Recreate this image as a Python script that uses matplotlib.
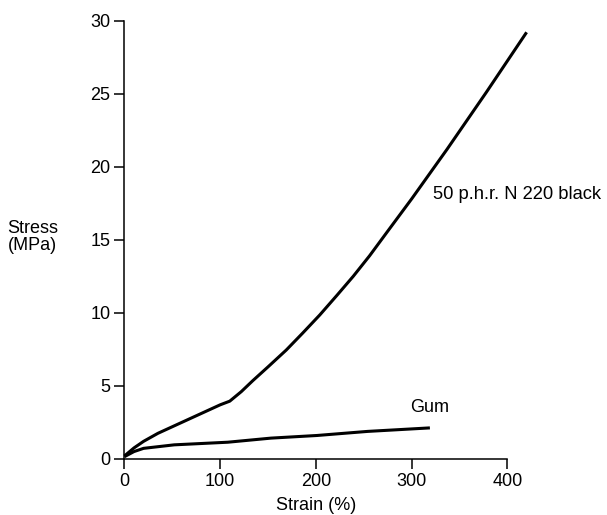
import matplotlib
matplotlib.use("Agg")
import matplotlib.pyplot as plt

plt.rcParams['font.family'] = ['Liberation Sans', 'DejaVu Sans']

# 50 p.h.r. N 220 black filled compound
black_strain = [0, 10, 20, 35, 50, 80, 100, 110, 122, 134, 150, 169, 186, 204, 222, 239, 256, 274, 300, 337, 378, 420]
black_stress = [0.2, 0.75, 1.2, 1.75, 2.2, 3.1, 3.7, 3.95, 4.6, 5.35, 6.3, 7.45, 8.6, 9.85, 11.2, 12.5, 13.9, 15.5, 17.8, 21.2, 25.1, 29.2]

# unfilled gum
gum_strain = [0, 10, 20, 52, 108, 153, 201, 254, 319]
gum_stress = [0.15, 0.5, 0.72, 0.96, 1.14, 1.42, 1.6, 1.88, 2.12]

fig = plt.figure(figsize=(6.07, 5.15), dpi=100)
ax = fig.add_axes([0.205, 0.109, 0.631, 0.851])

ax.plot(black_strain, black_stress, color='black', lw=2.2, clip_on=False,
        solid_capstyle='butt', solid_joinstyle='round')
ax.plot(gum_strain, gum_stress, color='black', lw=2.2, clip_on=False,
        solid_capstyle='butt', solid_joinstyle='round')

ax.set_xlim(0, 400)
ax.set_ylim(0, 30)
ax.set_xticks([0, 100, 200, 300, 400])
ax.set_yticks([0, 5, 10, 15, 20, 25, 30])

for s in ['top', 'right']:
    ax.spines[s].set_visible(False)
for s in ['left', 'bottom']:
    ax.spines[s].set_linewidth(1.1)
ax.tick_params(direction='out', length=7, width=1.1, labelsize=13, pad=3)

ax.set_xlabel('Strain (%)', fontsize=13, labelpad=5)
ax.text(-122, 15.2, 'Stress\n(MPa)', fontsize=13, ha='left', va='center',
        linespacing=1.0)

ax.text(298, 3.5, 'Gum', fontsize=13, ha='left', va='center')
ax.text(322, 18.1, '50 p.h.r. N 220 black', fontsize=13.2, ha='left', va='center')

fig.savefig('out.png', dpi=100)
